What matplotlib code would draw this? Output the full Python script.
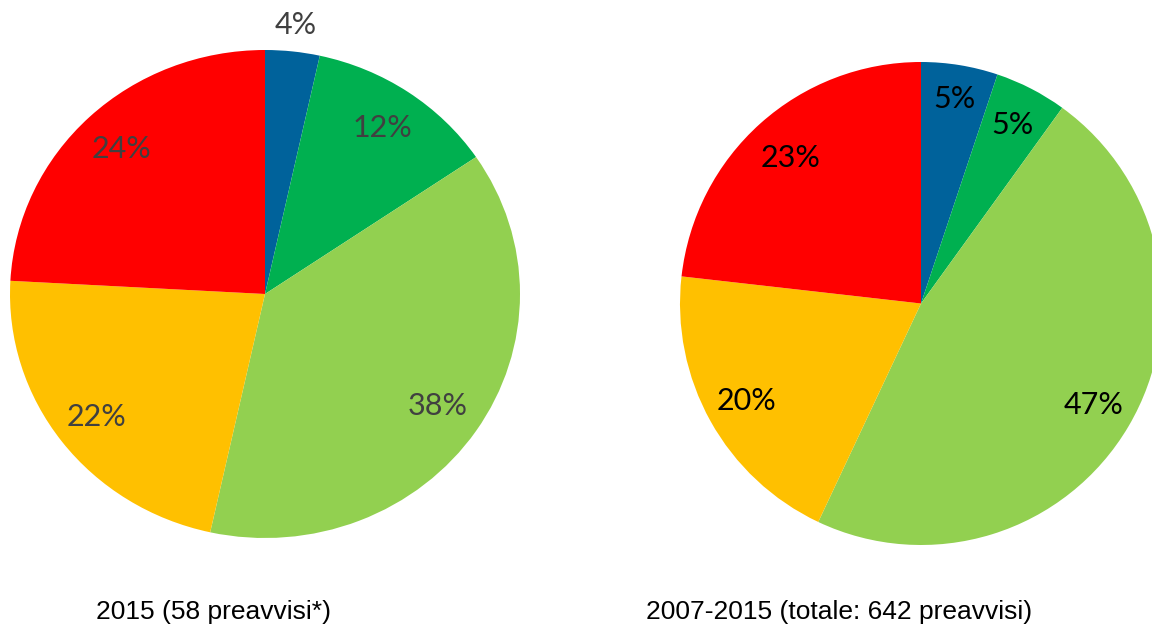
import matplotlib
matplotlib.use('Agg')
import matplotlib.pyplot as plt

colors = ['#00629B', '#00B050', '#92D050', '#FFC000', '#FF0000']
counts_2015 = [2, 7, 22, 13, 14]
labels_2015 = ['4%', '12%', '38%', '22%', '24%']
counts_tot = [33, 31, 302, 127, 149]
labels_tot = ['5%', '5%', '47%', '20%', '23%']
title_2015 = '2015 (58 preavvisi*)'
title_tot = '2007-2015 (totale: 642 preavvisi)'

fig = plt.figure(figsize=(11.52, 6.26), dpi=100)

def draw_pie(rect, vals, labels, txt_color, dists):
    ax = fig.add_axes(rect)
    wedges, _ = ax.pie(vals, colors=colors, startangle=90, counterclock=False, radius=1)
    for w, lab, d in zip(wedges, labels, dists):
        import numpy as np
        ang = np.deg2rad((w.theta1 + w.theta2) / 2)
        ax.text(d * np.cos(ang), d * np.sin(ang), lab, ha='center', va='center',
                fontsize=22, color=txt_color, family=['Lato', 'DejaVu Sans'])
    ax.set_aspect('auto')
    ax.set_xlim(-1, 1)
    ax.set_ylim(-1, 1)
    ax.axis('off')
    return ax

W, H = 1152, 626
draw_pie([10 / W, (H - 538) / H, 510 / W, 488 / H], counts_2015, labels_2015, '#404040',
         [1.11, 0.82, 0.82, 0.83, 0.82])
draw_pie([680 / W, (H - 545) / H, 482 / W, 483 / H], counts_tot, labels_tot, 'black',
         [0.86, 0.83, 0.83, 0.83, 0.81])

fig.text(213 / W, 1 - 612 / H, title_2015, ha='center', va='center', fontsize=19,
         family='Liberation Sans')
fig.text(839 / W, 1 - 612 / H, title_tot, ha='center', va='center', fontsize=19,
         family='Liberation Sans')

fig.savefig('out.png', dpi=100)
